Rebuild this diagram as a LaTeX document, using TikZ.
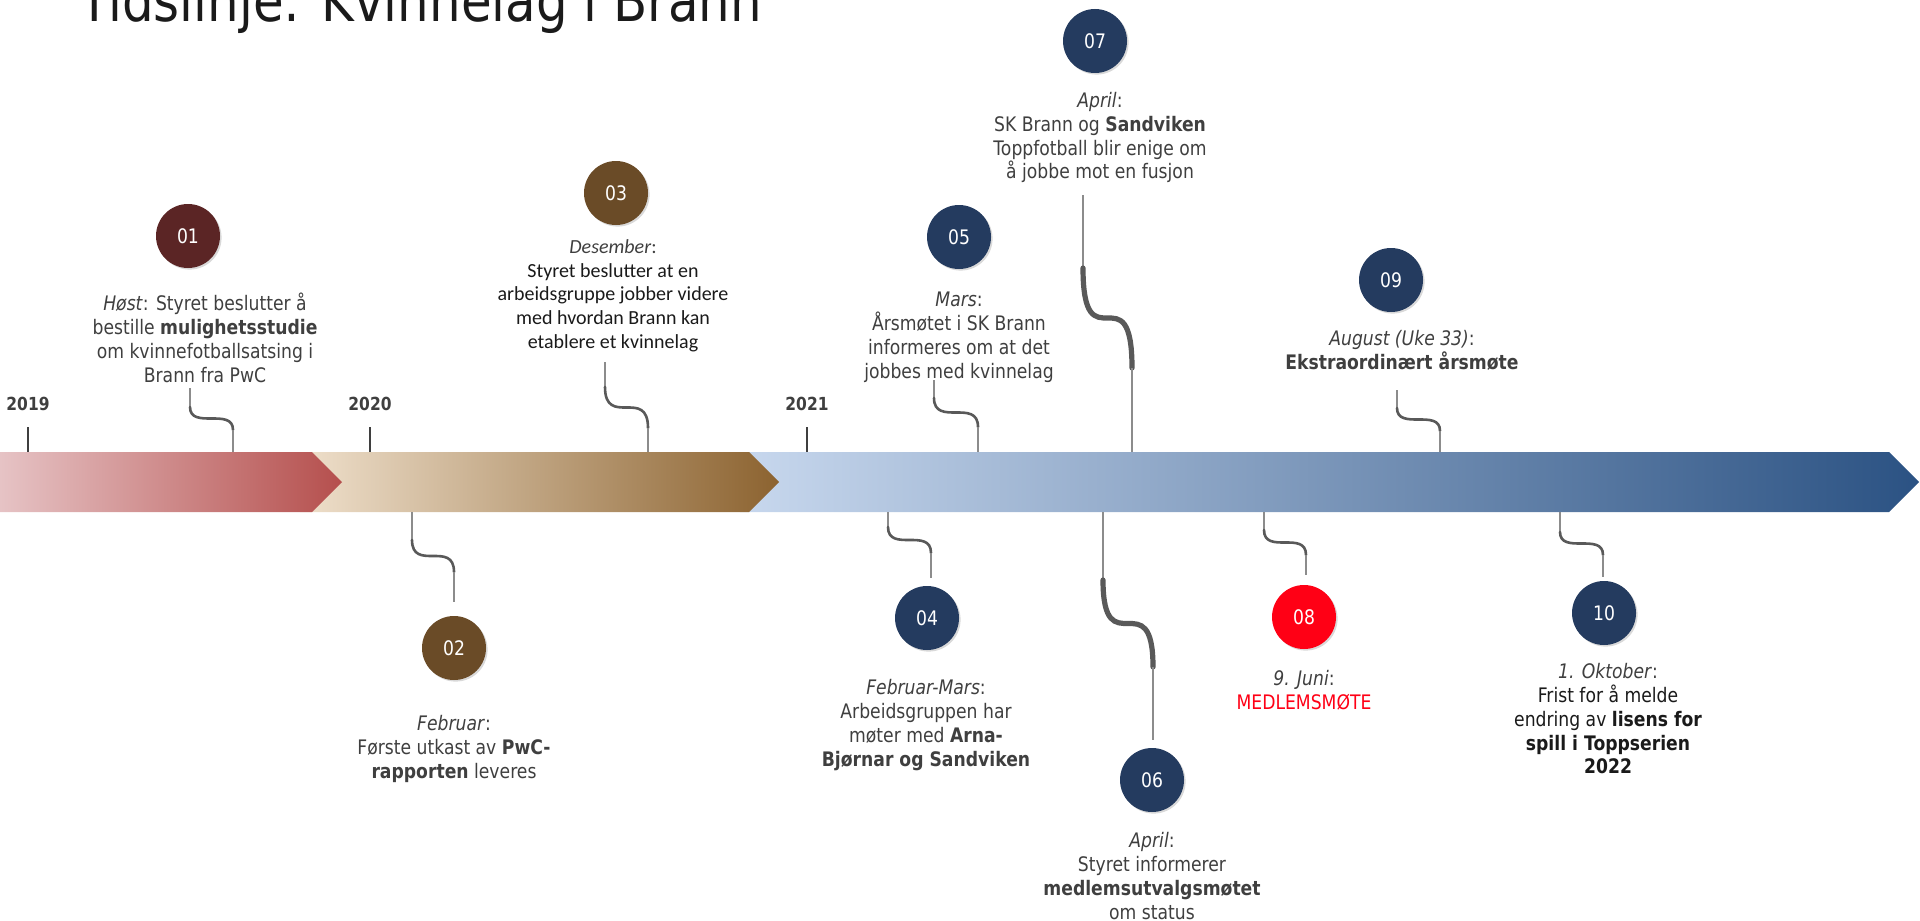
\documentclass[tikz,border=0pt]{standalone}
\usepackage{fontspec}
\setmainfont{DejaVu Sans}[FakeStretch=0.86]
\newfontfamily\calibri{Carlito}
\usetikzlibrary{shadows}

\definecolor{rosa1}{HTML}{E6C3C5}
\definecolor{rosa2}{HTML}{B54F4D}
\definecolor{brun1}{HTML}{EFE0CC}
\definecolor{brun2}{HTML}{8C6330}
\definecolor{blaa1}{HTML}{C8D8EE}
\definecolor{blaa2}{HTML}{2B5283}
\definecolor{vinrod}{HTML}{5B2525}
\definecolor{brun}{HTML}{6A4B27}
\definecolor{marine}{HTML}{243B5F}
\definecolor{medlemsrod}{HTML}{FF0015}
\definecolor{tekstgraa}{HTML}{3F3F3F}
\definecolor{mork}{HTML}{1A1A1A}
\definecolor{linjegraa}{HTML}{8C8C8C}
\definecolor{buegraa}{HTML}{595959}

\tikzset{
  sirkel/.style={circle, minimum size=32pt, inner sep=0pt, fill=#1, text=white,
    font=\fontsize{10}{12}\selectfont,
    drop shadow={shadow xshift=0.8pt, shadow yshift=-0.8pt, opacity=0.3}},
  tekst/.style={align=center, anchor=north, inner sep=0pt, text=tekstgraa,
    font=\fontsize{10}{11.9}\selectfont},
  aar/.style={font=\bfseries\fontsize{9}{11}\selectfont, text=tekstgraa, anchor=base},
  tynn/.style={draw=linjegraa, line width=0.6pt},
  bue/.style={draw=buegraa, line cap=round},
}

\begin{document}
\begin{tikzpicture}[x=0.5pt, y=-0.5pt]
\useasboundingbox (0,0) rectangle (1920,920);
%tittel
\node[anchor=base west, inner sep=0pt, font=\fontsize{29}{32}\selectfont, text=mork] (tittel) at (79,22) {Tidslinje: Kvinnelag i Brann};
%tidslinje
\shade[left color=blaa1, right color=blaa2] (740,452) -- (1889,452) -- (1919,482) -- (1889,512) -- (740,512) -- cycle;
\shade[left color=brun1, right color=brun2] (300,452) -- (749,452) -- (779,482) -- (749,512) -- (300,512) -- cycle;
\shade[left color=rosa1, right color=rosa2] (0,452) -- (312,452) -- (342,482) -- (312,512) -- (0,512) -- cycle;
%aarstall
\foreach \aar/\x in {2019/28, 2020/370, 2021/807}
{\node[aar] (aar\aar) at (\x,410) {\aar};
 \coordinate (s\aar) at (\x,452);
 \draw[tekstgraa, line width=1pt] (aar\aar.base) ++(0,17) -- (s\aar);}
%koblinger
\foreach \n/\xa/\ya/\yb/\xb/\yc/\yd/\w in {01/190/388/407/233/430/452/1.3, 02/412/512/540/454/572/602/1.3,
  03/605/362/387/648/428/452/1.3, 04/888/512/527/931/553/578/1.3, 05/934/380/398/978/427/452/1.3,
  06/1103/512/580/1153/667/740/2.6, 07/1083/195/268/1132/368/452/2.6, 08/1264/512/530/1306/555/575/1.3,
  09/1397/390/408/1440/431/452/1.3, 10/1560/512/532/1603/555/577/1.3}
{\coordinate (k\n-topp) at (\xa,\ya);
 \coordinate (k\n-bunn) at (\xb,\yd);
 \draw[tynn] (k\n-topp) -- (\xa,\yb);
 \draw[bue, line width=\w pt] (\xa,\yb) .. controls (\xa,\yc) and (\xb,\yb) .. (\xb,\yc);
 \draw[tynn] (\xb,\yc) -- (k\n-bunn);}
%hendelser
\node[sirkel=vinrod] (n01) at (188,236) {01};
\node[tekst] (t01) at (205,293) {\textit{Høst}: Styret beslutter å\\bestille \textbf{mulighetsstudie}\\om kvinnefotballsatsing i\\Brann fra PwC};
\node[sirkel=brun] (n02) at (454,648) {02};
\node[tekst] (t02) at (454,715) {\textit{Februar}:\\Første utkast av \textbf{PwC-}\\\textbf{rapporten} leveres};
\node[sirkel=brun] (n03) at (616,193) {03};
\node[tekst, font=\calibri\fontsize{10}{11.9}\selectfont, text=mork] (t03) at (613,239) {\textcolor{tekstgraa}{\textit{Desember}:}\\Styret beslutter at en\\arbeidsgruppe jobber videre\\med hvordan Brann kan\\etablere et kvinnelag};
\node[sirkel=marine] (n04) at (927,618) {04};
\node[tekst] (t04) at (926,679) {\textit{Februar-Mars}:\\Arbeidsgruppen har\\møter med \textbf{Arna-}\\\textbf{Bjørnar og Sandviken}};
\node[sirkel=marine] (n05) at (959,237) {05};
\node[tekst] (t05) at (959,292) {\textit{Mars}:\\Årsmøtet i SK Brann\\informeres om at det\\jobbes med kvinnelag};
\node[sirkel=marine] (n06) at (1152,780) {06};
\node[tekst] (t06) at (1152,832) {\textit{April}:\\Styret informerer\\\textbf{medlemsutvalgsmøtet}\\om status};
\node[sirkel=marine] (n07) at (1095,41) {07};
\node[tekst] (t07) at (1100,92) {\textit{April}:\\SK Brann og \textbf{Sandviken}\\Toppfotball blir enige om\\å jobbe mot en fusjon};
\node[sirkel=medlemsrod] (n08) at (1304,617) {08};
\node[tekst] (t08) at (1304,670) {\textit{9. Juni}:\\\textcolor{medlemsrod}{MEDLEMSMØTE}};
\node[sirkel=marine] (n09) at (1391,280) {09};
\node[tekst] (t09) at (1402,330) {\textit{August (Uke 33)}:\\\textbf{Ekstraordinært årsmøte}};
\node[sirkel=marine] (n10) at (1604,613) {10};
\node[tekst] (t10) at (1608,663) {\textit{1. Oktober}:\\\textcolor{mork}{Frist for å melde}\\\textcolor{mork}{endring av \textbf{lisens for}}\\\textcolor{mork}{\textbf{spill i Toppserien}}\\\textcolor{mork}{\textbf{2022}}};
\end{tikzpicture}
\end{document}
